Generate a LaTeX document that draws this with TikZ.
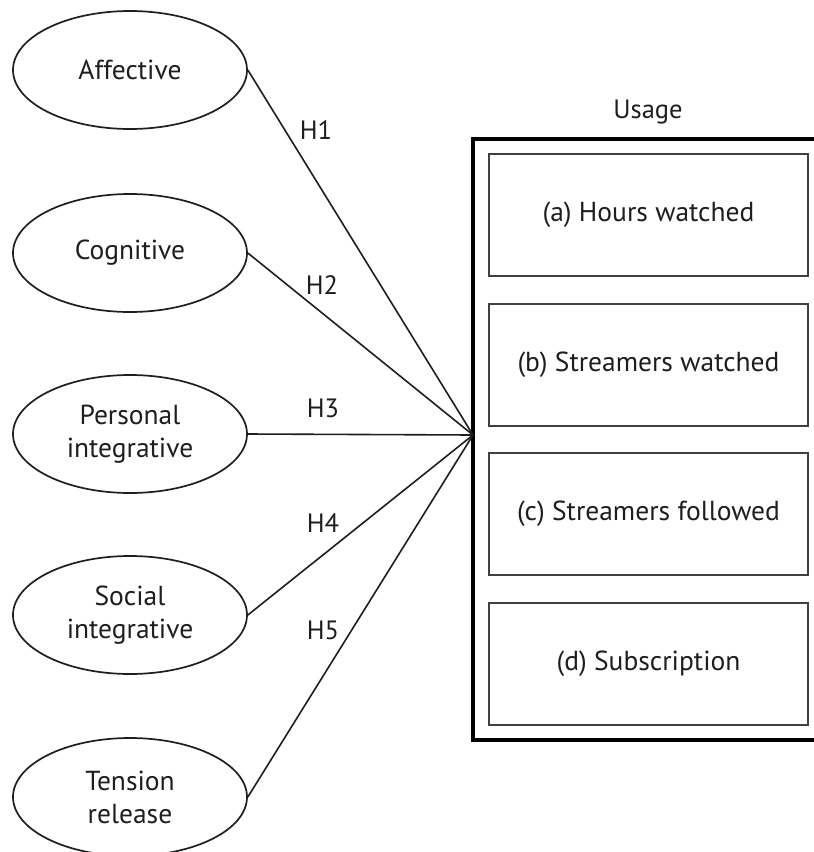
\documentclass[tikz,border=0pt]{standalone}
\usepackage{fontspec}
\setmainfont{PT Sans}
\usetikzlibrary{shapes.geometric}
\definecolor{ink}{RGB}{30,30,30}

\begin{document}
\begin{tikzpicture}[x=1pt,y=-1pt,
  motive/.style={draw=ink, line width=1.7pt, ellipse, minimum width=234pt, minimum height=118pt, inner sep=0pt, align=center, text=ink, font=\fontsize{27.5}{33}\selectfont},
  measure/.style={draw=ink!85, line width=2pt, minimum width=319pt, minimum height=122pt, inner sep=0pt, text=ink, font=\fontsize{27.5}{33}\selectfont},
  link/.style={ink, line width=1.6pt},
  hyp/.style={text=ink, font=\fontsize{26.5}{30}\selectfont}]
\clip (0,0) rectangle (814,852);
\useasboundingbox (0,0) rectangle (814,852);
% gratifications
\foreach \name/\txt/\y in {aff/Affective/70, cog/Cognitive/253, per/{Personal\\integrative}/434, soc/{Social\\integrative}/615, ten/{Tension\\release}/797}
  \node[motive] (\name) at (130,\y) {\txt};
% usage block
\node[draw=black, line width=4pt, minimum width=353pt, minimum height=601pt, inner sep=0pt] (usage) at (649.5,439.5) {};
\node[hyp] (usagelabel) at (648,112) {Usage};
\coordinate (hub) at (473,435);
\foreach \id/\txt/\y in {a/Hours watched/215, b/Streamers watched/364.5, c/Streamers followed/514, d/Subscription/664}
  \node[measure] (box\id) at (648.5,\y) {(\id) \txt};
% hypotheses
\foreach \name/\h/\lx/\ly in {aff/H1/316/130, cog/H2/322/285, per/H3/323/408, soc/H4/323/523, ten/H5/323/630}{
  \draw[link] (\name.east) -- (hub);
  \node[hyp] (\h) at (\lx,\ly) {\h};
}
\end{tikzpicture}
\end{document}
